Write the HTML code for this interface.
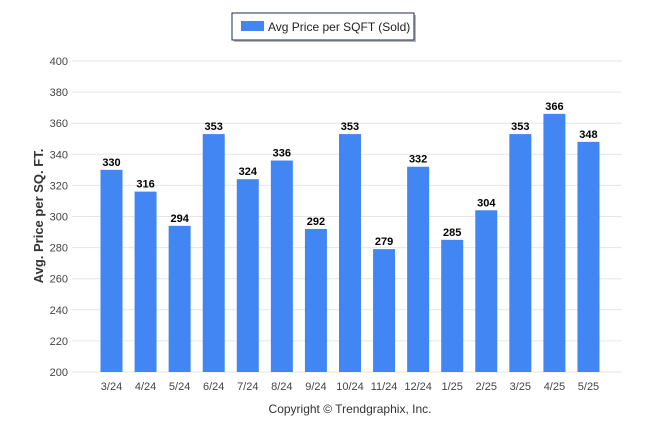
<!DOCTYPE html>
<html><head><meta charset="utf-8"><style>
body{margin:0;background:#fff;font-family:"Liberation Sans",sans-serif;}
svg text{font-family:"Liberation Sans",sans-serif;}
</style></head><body>
<svg width="646" height="434">
<g>
<rect x="234" y="15" width="182" height="27" fill="#333" opacity="0.35"/>
<rect x="232" y="13" width="182" height="27" fill="#fff" stroke="#1f2d4d" stroke-width="1"/>
<rect x="241" y="21" width="23" height="10" fill="#4286f4"/>
<text x="268" y="31" font-size="12" fill="#222">Avg Price per SQFT (Sold)</text>
</g>
<g id="grid"></g>
<g id="bars"></g>
<text transform="translate(43,216) rotate(-90)" text-anchor="middle" font-size="13" font-weight="bold" fill="#333">Avg. Price per SQ. FT.</text>
<text x="350" y="413" text-anchor="middle" font-size="12" fill="#333">Copyright © Trendgraphix, Inc.</text>
</svg>
<script>
const categories=["3/24","4/24","5/24","6/24","7/24","8/24","9/24","10/24","11/24","12/24","1/25","2/25","3/25","4/25","5/25"];
const values=[330,316,294,353,324,336,292,353,279,332,285,304,353,366,348];
const yTicks=[200,220,240,260,280,300,320,340,360,380,400];
const ns="http://www.w3.org/2000/svg";
const y=v=>372-(v-200)*(311/200);
const x=i=>111.5+i*34.07;
const g=document.getElementById('grid'),b=document.getElementById('bars');
function mk(tag,attrs,parent,txt){const e=document.createElementNS(ns,tag);for(const k in attrs)e.setAttribute(k,attrs[k]);if(txt!==undefined)e.textContent=txt;parent.appendChild(e);return e;}
yTicks.forEach(t=>{
 const l=mk('line',{x1:72,x2:622,y1:y(t),y2:y(t),stroke:'#e6e6e6'},g);
 
 
 const tx=mk('text',{x:68,y:y(t)+4,'text-anchor':'end','font-size':11,fill:'#444'},g,t);
 
 
});
categories.forEach((c,i)=>{
 const r=mk('rect',{x:x(i)-11,y:y(values[i]),width:22,height:372-y(values[i]),fill:'#4286f4'},b);
 
 
 const v=mk('text',{x:x(i),y:y(values[i])-4,'text-anchor':'middle','font-size':11,'font-weight':'bold',fill:'#000'},b,values[i]);
 
 
 const t=mk('text',{x:x(i),y:390,'text-anchor':'middle','font-size':11,fill:'#444'},b,c);
 
 
});
</script>
</body></html>
